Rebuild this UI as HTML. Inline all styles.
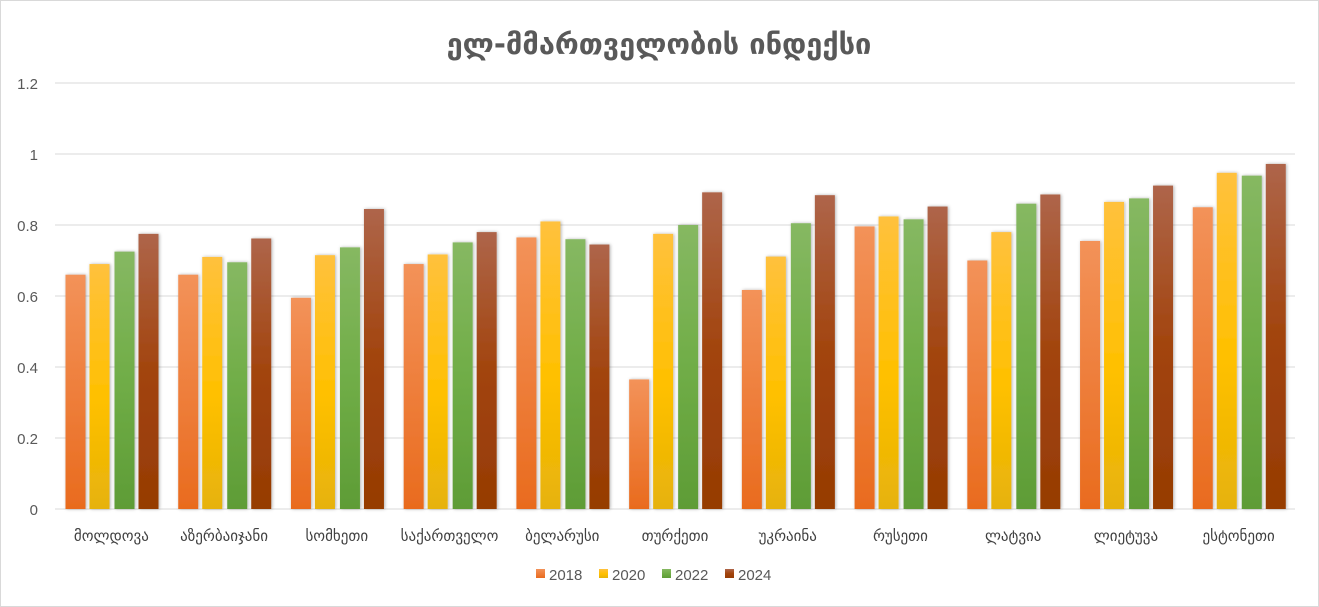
<!DOCTYPE html><html><head><meta charset="utf-8"><style>
html,body{margin:0;padding:0;background:#fff;}
svg{display:block;font-family:"Liberation Sans","DejaVu Sans",sans-serif;}
</style></head><body>
<svg id="c" width="1319" height="607" xmlns="http://www.w3.org/2000/svg">
<defs>
<linearGradient id="g0" x1="0" y1="0" x2="0" y2="1"><stop offset="0" stop-color="#f39259"/><stop offset="1" stop-color="#e96b1e"/></linearGradient>
<linearGradient id="g1" x1="0" y1="0" x2="0" y2="1"><stop offset="0" stop-color="#ffc13d"/><stop offset="0.55" stop-color="#ffc000"/><stop offset="1" stop-color="#e6b20a"/></linearGradient>
<linearGradient id="g2" x1="0" y1="0" x2="0" y2="1"><stop offset="0" stop-color="#86b862"/><stop offset="0.5" stop-color="#70ad47"/><stop offset="1" stop-color="#5e9c36"/></linearGradient>
<linearGradient id="g3" x1="0" y1="0" x2="0" y2="1"><stop offset="0" stop-color="#ae654a"/><stop offset="0.5" stop-color="#a2440d"/><stop offset="1" stop-color="#963c04"/></linearGradient>
<filter id="sh" x="-30%" y="-10%" width="160%" height="120%"><feDropShadow dx="1" dy="0" stdDeviation="1.5" flood-color="#000" flood-opacity="0.3"/></filter>
</defs>
<rect x="0.5" y="0.5" width="1318" height="606" fill="#fff" stroke="#d9d9d9"/>
<text x="659" y="54" text-anchor="middle" font-size="29" font-weight="bold" fill="#595959" font-family="DejaVu Sans,sans-serif">ელ-მმართველობის ინდექსი</text>
<g id="grid"></g><g id="bars"></g><g id="lab"></g>
</svg>
<script>
var ns="http://www.w3.org/2000/svg",s=document.getElementById('c');
function el(t,a,p,txt){var e=document.createElementNS(ns,t);for(var k in a)e.setAttribute(k,a[k]);if(txt!=null)e.textContent=txt;(p||s).appendChild(e);return e;}
var g=document.getElementById('grid'),b=document.getElementById('bars'),l=document.getElementById('lab');
var y0=509,k=355;
var ticks=["0","0.2","0.4","0.6","0.8","1","1.2"];
for(var i=0;i<7;i++){var y=y0-i*71;el('line',{x1:55,x2:1295,y1:y,y2:y,stroke:'#d9d9d9','stroke-width':1},g);
el('text',{x:38,y:y+6,'text-anchor':'end','font-size':15,fill:'#595959'},l,ticks[i]);}
var cats=["მოლდოვა","აზერბაიჯანი","სომხეთი","საქართველო","ბელარუსი","თურქეთი","უკრაინა","რუსეთი","ლატვია","ლიეტუვა","ესტონეთი"];
var d=[[.66,.69,.725,.775],[.66,.71,.695,.762],[.595,.715,.737,.845],[.69,.717,.751,.78],[.765,.81,.76,.745],[.365,.775,.80,.892],[.617,.711,.805,.884],[.796,.824,.816,.852],[.70,.78,.86,.886],[.755,.865,.875,.911],[.85,.947,.939,.972]];
var cw=(1295-55)/11,off=[10.5,34.5,59.5,83.5];
for(var c=0;c<11;c++){var x0=55+c*cw;
for(var j=0;j<4;j++){var h=d[c][j]*k;el('rect',{x:x0+off[j],y:y0-h,width:20,height:h,fill:'url(#g'+j+')',filter:'url(#sh)'},b);}
el('text',{x:x0+cw/2,y:541,'text-anchor':'middle','font-size':15,fill:'#404040','font-family':'DejaVu Sans,sans-serif'},l,cats[c]);}
var lx=[536,599,662,725],yrs=["2018","2020","2022","2024"];
for(var j=0;j<4;j++){el('rect',{x:lx[j],y:569,width:9,height:9,fill:'url(#g'+j+')'},l);el('text',{x:lx[j]+13,y:580,'font-size':15,fill:'#595959'},l,yrs[j]);}
</script>
</body></html>
